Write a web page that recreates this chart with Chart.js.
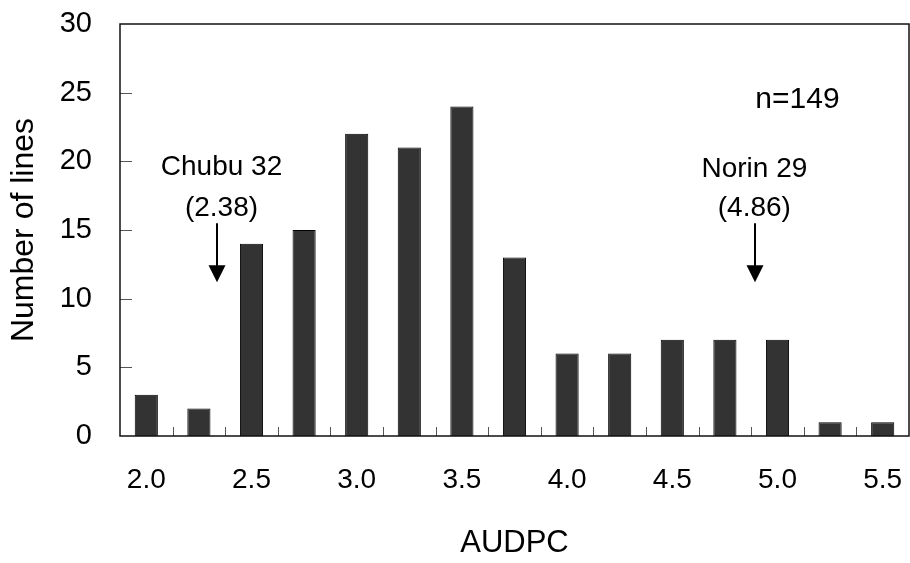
<!DOCTYPE html>
<html>
<head>
<meta charset="utf-8">
<script src="https://cdn.jsdelivr.net/npm/chart.js@4/dist/chart.umd.min.js"></script>
<style>
  html, body { margin: 0; padding: 0; background: #fff; }
  #wrap { width: 910px; height: 563px; }
</style>
</head>
<body>
<div id="wrap"><canvas id="myChart" width="910" height="563"></canvas></div>
<script>
// histogram classes (AUDPC) and counts
const audpcClasses = ['2.0', '2.25', '2.5', '2.75', '3.0', '3.25', '3.5', '3.75', '4.0', '4.25', '4.5', '4.75', '5.0', '5.25', '5.5'];
const lineCounts = [3, 2, 14, 15, 22, 21, 24, 13, 6, 6, 7, 7, 7, 1, 1];
const yTicks = [0, 5, 10, 15, 20, 25, 30];

// parent markers: name, value label, arrow position and text position (class index), levels
const markerNames = ['Chubu 32', 'Norin 29'];
const markerValues = ['(2.38)', '(4.86)'];
const markerPos = [1.35, 11.57];
const markerTextPos = [1.43, 11.56];
const markerNameY = [19.55, 19.45];
const markerValueY = [16.55, 16.6];
const arrowTop = [15.5, 15.5];
const arrowTip = [11.2, 11.2];
const sampleText = 'n=149';
const samplePos = [12.38, 24.5];

const fontFamily = '"Liberation Sans", Arial, sans-serif';

// frame, inside tick marks and the text notes
const decorPlugin = {
    id: 'decor',
    afterDraw(chart) {
        const ctx = chart.ctx;
        const area = chart.chartArea;
        const x = chart.scales.x;
        const y = chart.scales.y;
        ctx.save();

        // tick marks point into the plot
        ctx.strokeStyle = '#555';
        ctx.lineWidth = 1;
        ctx.beginPath();
        yTicks.forEach(v => {
            if (v === 0 || v === 30) return;
            const py = Math.round(y.getPixelForValue(v)) + 0.5;
            ctx.moveTo(area.left, py);
            ctx.lineTo(area.left + 12, py);
        });
        for (let i = 0; i < audpcClasses.length - 1; i++) {
            const px = Math.round(x.getPixelForValue(i + 0.5)) + 0.5;
            ctx.moveTo(px, area.bottom);
            ctx.lineTo(px, area.bottom - 9);
        }
        ctx.stroke();

        // box round the plot
        ctx.strokeStyle = '#111';
        ctx.lineWidth = 1.5;
        ctx.strokeRect(area.left, area.top, area.right - area.left, area.bottom - area.top);

        // notes
        ctx.fillStyle = '#000';
        ctx.strokeStyle = '#000';
        ctx.textAlign = 'center';
        ctx.textBaseline = 'middle';
        ctx.font = '28px ' + fontFamily;
        markerNames.forEach((name, i) => {
            const tx = x.getPixelForValue(markerTextPos[i]);
            ctx.fillText(name, tx, y.getPixelForValue(markerNameY[i]));
            ctx.fillText(markerValues[i], tx, y.getPixelForValue(markerValueY[i]));

            const px = Math.round(x.getPixelForValue(markerPos[i]));
            const top = y.getPixelForValue(arrowTop[i]);
            const tip = y.getPixelForValue(arrowTip[i]);
            ctx.lineWidth = 2;
            ctx.beginPath();
            ctx.moveTo(px, top);
            ctx.lineTo(px, tip - 10);
            ctx.stroke();
            ctx.beginPath();
            ctx.moveTo(px - 8.5, tip - 17);
            ctx.lineTo(px + 8.5, tip - 17);
            ctx.lineTo(px, tip);
            ctx.closePath();
            ctx.fill();
        });
        ctx.font = '30px ' + fontFamily;
        ctx.fillText(sampleText, x.getPixelForValue(samplePos[0]), y.getPixelForValue(samplePos[1]));

        ctx.restore();
    }
};

const ctx = document.getElementById('myChart');

new Chart(ctx, {
    type: 'bar',
    data: {
        labels: audpcClasses,
        datasets: [{
            label: 'Number of lines',
            data: lineCounts,
            backgroundColor: '#333333',
            borderColor: '#000000',
            borderWidth: 1,
            barPercentage: 0.44,
            categoryPercentage: 1
        }]
    },
    options: {
        responsive: false,
        animation: false,
        devicePixelRatio: 1,
        layout: { padding: { top: 24, right: 1, left: 0, bottom: 0 } },
        plugins: {
            legend: { display: false },
            tooltip: { enabled: false }
        },
        scales: {
            x: {
                grid: { display: false, drawTicks: false },
                border: { display: false },
                ticks: {
                    autoSkip: false,
                    maxRotation: 0,
                    padding: 27,
                    color: '#000',
                    font: { family: fontFamily, size: 28 },
                    // only every other class gets a label
                    callback: (value, index) => index % 2 === 0 ? audpcClasses[index] : ''
                },
                title: {
                    display: true,
                    text: 'AUDPC',
                    color: '#000',
                    font: { family: fontFamily, size: 31 },
                    padding: { top: 0, bottom: 1 }
                },
                afterFit: scale => {
                    scale.height = 127;
                    scale.paddingLeft = 0;
                    scale.paddingRight = 0;
                }
            },
            y: {
                min: 0,
                max: 30,
                grid: { display: false, drawTicks: false },
                border: { display: false },
                ticks: {
                    stepSize: 5,
                    padding: 28,
                    color: '#000',
                    font: { family: fontFamily, size: 29 }
                },
                title: {
                    display: true,
                    text: 'Number of lines',
                    color: '#000',
                    font: { family: fontFamily, size: 32 },
                    padding: { top: 5, bottom: 0 }
                },
                afterFit: scale => {
                    scale.width = 120;
                    scale.paddingTop = 0;
                    scale.paddingBottom = 0;
                }
            }
        }
    },
    plugins: [decorPlugin]
});
</script>
</body>
</html>
